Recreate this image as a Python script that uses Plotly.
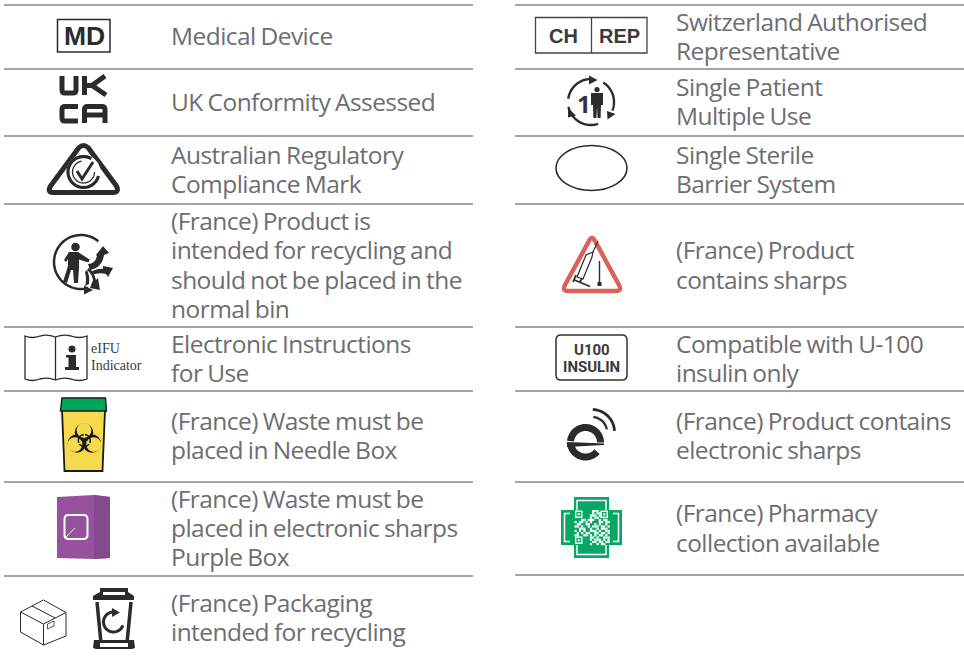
import plotly.graph_objects as go
import math

# ---- content ----
left_labels = [
    ["Medical Device"], ["UK Conformity Assessed"],
    ["Australian Regulatory", "Compliance Mark"],
    ["(France) Product is", "intended for recycling and", "should not be placed in the", "normal bin"],
    ["Electronic Instructions", "for Use"],
    ["(France) Waste must be", "placed in Needle Box"],
    ["(France) Waste must be", "placed in electronic sharps", "Purple Box"],
    ["(France) Packaging", "intended for recycling"],
]
left_line_y = [[35, ], [101], [154, 183], [220, 249, 279, 308], [343, 372], [420, 449], [498, 527, 556], [602, 631]]
right_labels = [
    ["Switzerland Authorised", "Representative"], ["Single Patient", "Multiple Use"],
    ["Single Sterile", "Barrier System"], ["(France) Product", "contains sharps"],
    ["Compatible with U-100", "insulin only"], ["(France) Product contains", "electronic sharps"],
    ["(France) Pharmacy", "collection available"],
]
right_line_y = [[21, 50], [86, 115], [154, 183], [249, 279], [343, 372], [420, 449], [512, 542]]
left_rules = [5, 69, 136, 204, 327, 391, 482, 576]
right_rules = [5, 69, 136, 204, 327, 391, 482, 575]
qr_bitmap = [
    "0000000011100000",
    "0000000010110000",
    "0000000111010000",
    "0000000101100000",
    "0001101110010110",
    "1011010100011011",
    "0110011001010010",
    "1101001011101101",
    "0011100100101110",
    "1010100111010011",
    "0101011001101101",
    "1100110101011010",
    "0000000110100111",
    "0000000101110101",
    "0000000011011011",
    "0000000100101100",
]

DARK = "#2b2b2d"
TXT = "#6d6e71"
shapes, ann = [], []

def stroke(d, color=DARK, w=1.5, fill=None):
    shapes.append(dict(type="path", path=d, xref="x", yref="y",
                       line=dict(color=color, width=w), fillcolor=fill or "rgba(0,0,0,0)"))

def fill(d, color=DARK):
    shapes.append(dict(type="path", path=d, xref="x", yref="y", line=dict(width=0), fillcolor=color))

def poly(pts, close=False):
    s = "M" + " L".join(f"{x:.2f},{y:.2f}" for x, y in pts)
    return s + (" Z" if close else "")

def arc(cx, cy, r, a0, a1, ry=None, n=40):
    ry = ry or r
    return [(cx + r * math.cos(math.radians(a0 + (a1 - a0) * i / n)),
             cy - ry * math.sin(math.radians(a0 + (a1 - a0) * i / n))) for i in range(n + 1)]

def rect(x0, y0, x1, y1, color=None, lc=None, w=1.5):
    shapes.append(dict(type="rect", x0=x0, x1=x1, y0=y0, y1=y1, xref="x", yref="y",
                       fillcolor=color or "rgba(0,0,0,0)",
                       line=dict(color=lc or "rgba(0,0,0,0)", width=w if lc else 0)))

def circ(cx, cy, r, color=None, lc=None, w=1.5, ry=None):
    ry = ry or r
    shapes.append(dict(type="circle", x0=cx - r, x1=cx + r, y0=cy - ry, y1=cy + ry, xref="x", yref="y",
                       fillcolor=color or "rgba(0,0,0,0)",
                       line=dict(color=lc or "rgba(0,0,0,0)", width=w if lc else 0)))

def text(x, y, s, size, family="Liberation Sans", color=DARK, bold=False, anchor="center", height=None):
    a = dict(x=x, y=y, text=f"<b>{s}</b>" if bold else s, showarrow=False, xref="x", yref="y",
             xanchor=anchor, yanchor="middle", align=anchor, borderpad=0, borderwidth=0,
             font=dict(family=family, size=size, color=color))
    if height:
        a["height"] = height
    ann.append(a)

def rrect(x0, y0, x1, y1, r):
    return (f"M{x0+r},{y0} L{x1-r},{y0} Q{x1},{y0} {x1},{y0+r} L{x1},{y1-r} Q{x1},{y1} {x1-r},{y1} "
            f"L{x0+r},{y1} Q{x0},{y1} {x0},{y1-r} L{x0},{y0+r} Q{x0},{y0} {x0+r},{y0} Z")

# ---- rules ----
for y in left_rules:
    shapes.append(dict(type="line", x0=4, x1=473, y0=y, y1=y, xref="x", yref="y", line=dict(color="#4a4a4c", width=1)))
for y in right_rules:
    shapes.append(dict(type="line", x0=515, x1=964, y0=y, y1=y, xref="x", yref="y", line=dict(color="#4a4a4c", width=1)))

# ---- MD ----
rect(57.5, 19.5, 110, 52, lc=DARK, w=1.5)
text(84.5, 36, "MD", 26.5, bold=True)

# ---- UKCA ----
stroke("M62,76 L62,90 Q62,93 65,93 L73,93 Q76,93 76,90 L76,76", w=5)
stroke("M84.5,76 L84.5,95", w=5)
stroke("M105,76 L92,85.5 L106,95 M87,85.5 L92,85.5", w=5)
stroke("M78,106.5 L65,106.5 Q62,106.5 62,109.5 L62,118 Q62,121 65,121 L78,121", w=5)
stroke("M84.5,123 L84.5,109.5 Q84.5,106.5 87.5,106.5 L102,106.5 Q105,106.5 105,109.5 L105,123 M84.5,115 L105,115", w=5)

# ---- RCM ----
stroke("M79,147.5 Q83.5,143.5 88,147.5 L116.5,186 Q119.5,192.5 113,192.5 L53,192.5 Q47,192.5 50.5,186 Z", w=5)
circ(83.5, 172, 17, color="white")
stroke(poly(arc(83.5, 172, 15.5, 60, 345)), w=3.2)
stroke(poly(arc(83.5, 172, 11, 100, 360)), w=1.3)
stroke("M77,171 L82,179 L93,162", w=3)

# ---- Triman ----
stroke(poly(arc(81, 262, 27, 50, 285)), w=2.5)
fill("M84,285.5 L93,290 L84,294.5 Z")
circ(75.5, 247, 4.3, color=DARK)
fill("M69,252 L78,252 L89.5,259.5 L88.5,262.5 L79,259.5 L79,268 L78,283 L74,283 L73,270 L71,270 L67,283 L63,282 L68,266 L68,259 L66,262 L64,260 Z")
fill("M88,264 Q95,264 97,256 L96,255 L103,246 L109,253 L104,255 Q102,268 90,270 Z")
fill("M91,272 Q98,268 103,269 L103,266 L113,268 L108,277 L106,274 Q99,272 92,275 Z")
fill("M87,270 Q92,274 93,280 L90,288 L100,290 L98,278 L96,280 Q94,272 89,268 Z")
fill("M85,272 Q87,280 85,286 L89,284 Q90,276 87,270 Z")

# ---- eIFU ----
stroke("M55.5,337 Q47,334 40,336 Q32,339 25,336 L25,379 Q32,382 40,379 Q48,377 55.5,380 "
       "Q63,377 71,379 Q79,382 87,379 L87,336 Q79,339 71,336 Q63,334 55.5,337 Z M55.5,337 L55.5,380", w=1.3)
circ(72, 349, 3.5, color=DARK)
fill("M66,355 L76,355 L76,367 L79,367 L79,370 L65,370 L65,367 L68.5,367 L68.5,357.5 L66,357.5 Z")
text(91, 348.5, "eIFU", 14, family="Liberation Serif", anchor="left", color="#3a3a3c")
text(91, 365.5, "Indicator", 14, family="Liberation Serif", anchor="left", color="#3a3a3c")

# ---- needle box ----
YEL = "#f5da4e"
fill("M62,410 L105,410 L102.5,471 L64.5,471 Z", YEL)
stroke("M62,410 L64.5,471 L102.5,471 L105,410", w=1.8, color="#1a1a1a")
fill("M62,398 L105.5,398 L106.5,411 L60.5,411 Z", "#00a65a")
stroke("M62,398 L105.5,398 L106.5,411 L60.5,411 Z", w=1.4, color="#1a1a1a")
for cx, cy, ox, oy in [(84, 432.5, 0, -2.2), (76.8, 443.5, -1.9, 1.1), (91.8, 443.5, 1.9, 1.1)]:
    circ(cx, cy, 9.2, color="#1a1a1a")
for cx, cy, ox, oy in [(84, 432.5, 0, -2.2), (76.8, 443.5, -1.9, 1.1), (91.8, 443.5, 1.9, 1.1)]:
    circ(cx + ox, cy + oy, 7.4, color=YEL)
circ(84.3, 440.5, 6, lc="#1a1a1a", w=1.5)
stroke("M84.3,438 L84.3,431 M82.2,441.8 L75.5,445.5 M86.4,441.8 L93,445.5", color=YEL, w=1.2)

# ---- purple box ----
fill("M57,497 L94,495 L110,497 L110,558 L94,559 L57,558 Z", "#96519f")
fill("M94,495 L110,497 L110,558 L94,559 Z", "#834a8c")
stroke(rrect(64.5, 515, 87.5, 539, 4), color="white", w=2)
stroke("M66,537 L75,528", color="white", w=1)

# ---- carton ----
stroke("M43.5,600 L66,612.5 L66,636 L43.5,645 L20.5,632 L20.5,612 Z M20.5,612 L43.5,624 L66,612.5 M43.5,624 L43.5,645 "
       "M32,606 L55,618", w=1)
stroke("M47.5,624 L54,621 L54,626 L47.5,629 Z", w=0.8)

# ---- wheelie bin ----
fill("M100,588 L128,588 L128,592 L134,596 L134,600 L93,600 L93,596 L100,592 Z")
rect(103, 592, 125, 595, color="white")
stroke("M97,602 L101,643 L127,643 L131,602", w=3.5)
fill("M94,640 L134,640 L135,648 L132,649 L96,649 L93,648 Z")
rect(100, 643, 128, 647, color="white")
stroke(poly(arc(113.5, 622, 10, 70, 340)), w=3)
fill("M112,608 L120,612.5 L112,617 Z")

# ---- CH REP ----
rect(535.5, 17.5, 647, 53, lc="#444446", w=1.3)
shapes.append(dict(type="line", x0=591.5, x1=591.5, y0=17, y1=53, xref="x", yref="y", line=dict(color="#444446", width=1.3)))
text(563, 36, "CH", 20, bold=True, color="#3a3a3c")
text(619, 36, "REP", 20, bold=True, color="#3a3a3c")

# ---- single patient multiple use ----
stroke(poly(arc(591, 102, 23, 172, 95)), w=2.4)
fill("M589,75.5 L597.5,80 L589,84.5 Z")
stroke(poly(arc(591, 102, 23, 58, -22)), w=2.4)
fill("M607,111 L615.5,114 L607.5,119.5 Z")
stroke(poly(arc(591, 102, 23, -72, -168)), w=2.4)
fill("M568,108 L576,115.5 L568,117.5 Z")
text(584, 103.5, "1", 24, family="Open Sans", color="#333335", bold=True)
circ(597, 89.5, 2.6, color=DARK)
fill("M591,93 L603,93 L603,105 L601,105 L600.6,118 L597.6,118 L597,107 L596.4,118 L593.4,118 L593,105 L591,105 Z")

# ---- oval ----
circ(591.5, 168, 35.5, lc=DARK, w=1.6, ry=22.5)

# ---- sharps triangle ----
stroke("M589,241 Q592,235 595,241 L619,285 Q622,291 616,291 L568,291 Q562,291 565,285 Z", color="#d9635a", w=4.5)
stroke("M598,241 L593,252", w=1.2)
stroke("M593,252 L586,255 L577,277 L583,279 L592,257 Z", w=1.2)
stroke("M574.5,280 L590,286.5 M580,282 L582,278 M576,275 L573,282", w=1.8)
stroke("M599.5,261 L599.5,283", w=1.4)
rect(597.5, 282, 601.5, 286, color=DARK)

# ---- U100 ----
stroke(rrect(556, 335, 627, 380, 5), w=1.5, color="#333335")
text(591.5, 349.5, "U100", 15, family="Roboto", bold=True, color="#3a3a3c")
text(591.5, 367, "INSULIN", 15, family="Roboto", bold=True, color="#3a3a3c")

# ---- e sharps ----
stroke(poly(arc(585.5, 442.5, 15, 0, 175)), w=7)
fill("M567,442 L604,443.5 L604,445 L567,447 Z")
stroke(poly(arc(585.5, 442, 15, 188, 320)), w=7)
stroke(poly(arc(592, 432, 15, 10, 85)), w=2.3)
stroke(poly(arc(592, 432, 22.5, 3, 88)), w=2.8)

# ---- pharmacy cross ----
GRN = "#0aa664"
fill("M574,497 L609,497 L609,510 L622,510 L622,545 L609,545 L609,558 L574,558 L574,545 L561,545 L561,510 L574,510 Z", GRN)
stroke("M577,510 L577,500.5 L606,500.5 L606,510 M613,513.5 L618.5,513.5 L618.5,541.5 L613,541.5 "
       "M606,545 L606,554.5 L577,554.5 L577,545 M570,541.5 L564.5,541.5 L564.5,513.5 L570,513.5", color="white", w=1.5)
cell = 2.2
for r, row in enumerate(qr_bitmap):
    for c, v in enumerate(row):
        if v == "1":
            rect(574.5 + c * cell, 510 + r * cell, 574.5 + (c + 1) * cell, 510 + (r + 1) * cell, color="white")
for fx, fy in [(575, 510.5), (600.5, 510.5), (575, 536.5)]:
    rect(fx + 0.7, fy + 0.7, fx + 6.8, fy + 6.8, lc="white", w=1.4)
    rect(fx + 2.7, fy + 2.7, fx + 4.8, fy + 4.8, color="white")

# ---- labels ----
for x, labels, ys in [(171, left_labels, left_line_y), (676, right_labels, right_line_y)]:
    for lines, yy in zip(labels, ys):
        for s, y in zip(lines, yy):
            text(x, y, s, 24.5, family="Open Sans", color=TXT, anchor="left", height=28)

fig = go.Figure()
fig.update_layout(
    width=964, height=658, margin=dict(l=0, r=0, t=0, b=0), showlegend=False,
    paper_bgcolor="white", plot_bgcolor="white",
    xaxis=dict(range=[0, 964], visible=False, fixedrange=True),
    yaxis=dict(range=[658, 0], visible=False, fixedrange=True),
    shapes=shapes, annotations=ann,
)
page_css = ("document.body.style.margin='0';"
            "var s=document.createElement('style');"
            "s.textContent='text[style*=\"24.5px\"]{letter-spacing:-0.55px;word-spacing:-1px;clip-path:none!important}';"
            "document.head.appendChild(s);")
fig.write_html("out.html", config={"displayModeBar": False}, post_script=page_css)
